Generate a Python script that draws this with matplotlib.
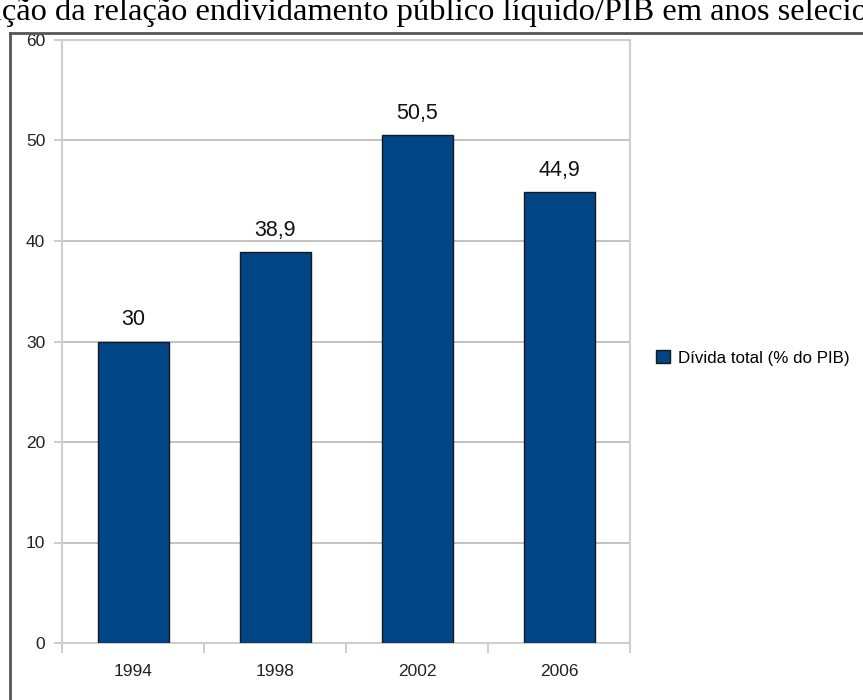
import matplotlib.pyplot as plt
from matplotlib.lines import Line2D

anos = ['1994', '1998', '2002', '2006']
divida = [30, 38.9, 50.5, 44.9]
titulo = 'Evolução da relação endividamento público líquido/PIB em anos selecionados'
serie = 'Dívida total (% do PIB)'

plt.rcParams['font.family'] = ['Liberation Sans', 'DejaVu Sans']

W, H = 863, 700
fig = plt.figure(figsize=(W / 100, H / 100), dpi=100)
ax = fig.add_axes([62 / W, 1 - 643 / H, (630 - 62) / W, (643 - 40) / H])

x = range(len(anos))
bars = ax.bar(x, divida, width=0.5, color='#004586', edgecolor='#1a1a1a',
              linewidth=1, zorder=3, label=serie)
ax.bar_label(bars, labels=[f'{v:g}'.replace('.', ',') for v in divida],
             padding=8, fontsize=15.5, color='#111111')

ax.set_xlim(-0.5, len(anos) - 0.5)
ax.set_ylim(0, 60)
ax.set_yticks(range(0, 61, 10))
ax.yaxis.grid(True, color='#b8b8b8', linewidth=1.2, zorder=0)

# category boundaries get the tick marks, years sit in between
ax.set_xticks([i - 0.5 for i in range(len(anos) + 1)])
ax.set_xticklabels([])
ax.set_xticks(list(x), minor=True)
ax.set_xticklabels(anos, minor=True)
ax.tick_params(axis='x', which='major', length=7, color='#c4c4c4', width=1.2)
ax.tick_params(axis='x', which='minor', length=0, pad=15, labelsize=12.5, labelcolor='#222222')
ax.tick_params(axis='y', length=6, color='#c4c4c4', width=1.2, pad=6,
               labelsize=12.5, labelcolor='#222222')
for s in ax.spines.values():
    s.set_color('#cfcfcf')
    s.set_linewidth(1.5)

fig.legend(handles=[bars], loc='center left', bbox_to_anchor=(656 / W, 1 - 358 / H),
           frameon=False, fontsize=12.2, handlelength=0.8, handleheight=0.8,
           handletextpad=0.5, borderpad=0, borderaxespad=0)

# page title (wider than the page) and the border of the embedded chart frame
fig.text(0.503, 1 - 20 / H, titulo, family='Liberation Serif', fontsize=23.4,
         ha='center', va='baseline', color='black')
fig.add_artist(Line2D([10 / W, 1], [1 - 33 / H, 1 - 33 / H], color='#555555', linewidth=2))
fig.add_artist(Line2D([10 / W, 10 / W], [0, 1 - 33 / H], color='#555555', linewidth=2))

fig.savefig('out.png', dpi=100)
